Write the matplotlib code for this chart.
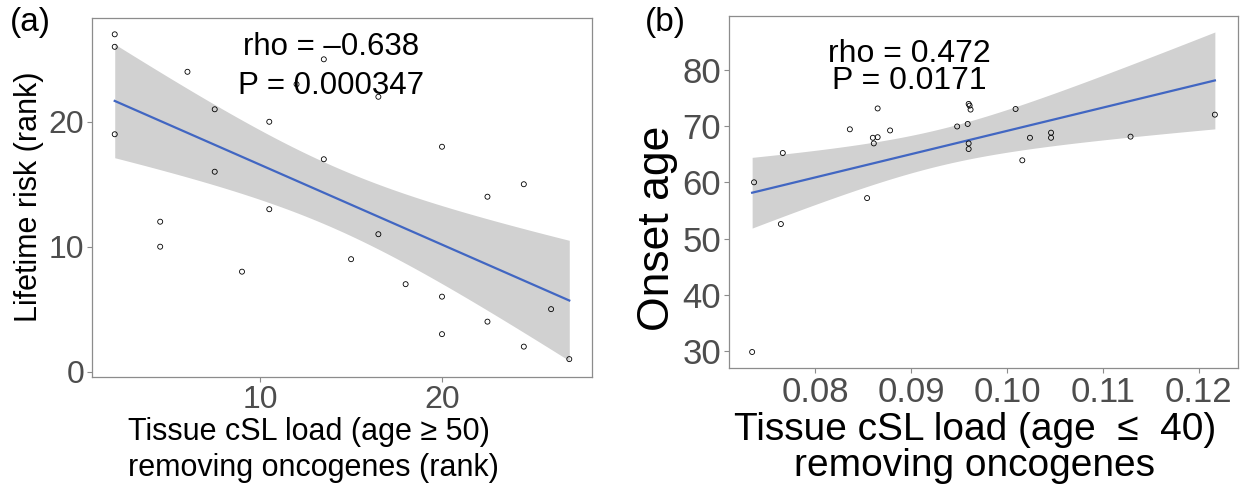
import numpy as np
import matplotlib
matplotlib.use("Agg")
import matplotlib.pyplot as plt

plt.rcParams['font.family'] = ['Liberation Sans', 'DejaVu Sans']

# panel (a): ranks
load_rank = [2, 2, 2, 4.5, 4.5, 6, 7.5, 7.5, 9, 10.5, 10.5, 12, 13.5, 13.5,
             15, 16.5, 16.5, 18, 20, 20, 20, 22.5, 22.5, 24.5, 24.5, 26, 27]
risk_rank = [27, 26, 19, 12, 10, 24, 21, 16, 8, 20, 13, 23, 25, 17,
             9, 22, 11, 7, 18, 6, 3, 14, 4, 15, 2, 5, 1]

# panel (b): cSL load vs onset age
csl_load = [0.0734, 0.0736, 0.0764, 0.0766, 0.0836, 0.0854, 0.0860, 0.0861,
            0.0865, 0.0865, 0.0878, 0.0948, 0.0959, 0.0960, 0.0961, 0.0962,
            0.0960, 0.0960, 0.1009, 0.1016, 0.1024, 0.1046, 0.1046, 0.1129,
            0.1217]
onset_age = [29.9, 60.0, 52.6, 65.2, 69.4, 57.2, 67.9, 66.9, 73.1, 68.0,
             69.2, 69.9, 70.35, 73.9, 73.6, 72.9, 66.9, 65.9, 73.0, 63.9,
             67.9, 68.8, 67.9, 68.1, 72.0]

stats_a = ["rho = \u20130.638", "P = 0.000347"]
stats_b = ["rho = 0.472", "P = 0.0171"]

W, H = 1245, 486
fig = plt.figure(figsize=(W / 100, H / 100), dpi=100)
ax1 = fig.add_axes([92 / W, 1 - 377 / H, 500 / W, 359 / H])
ax2 = fig.add_axes([729 / W, 1 - 368 / H, 509 / W, 352 / H])


def lm_band(x, y, tcrit):
    x = np.asarray(x, float)
    y = np.asarray(y, float)
    n = len(x)
    b, a = np.polyfit(x, y, 1)
    resid = y - (a + b * x)
    s = np.sqrt(np.sum(resid ** 2) / (n - 2))
    xs = np.linspace(x.min(), x.max(), 80)
    fit = a + b * xs
    se = s * np.sqrt(1 / n + (xs - x.mean()) ** 2 / np.sum((x - x.mean()) ** 2))
    return xs, fit, fit - tcrit * se, fit + tcrit * se


def expand(lo, hi):
    d = (hi - lo) * 0.05
    return lo - d, hi + d


def draw(ax, x, y, tcrit, fs):
    xs, fit, lo, hi = lm_band(x, y, tcrit)
    ax.fill_between(xs, lo, hi, color='#999999', alpha=0.45, linewidth=0, zorder=1)
    ax.scatter(x, y, s=13, facecolors='none', edgecolors='black', linewidths=0.6, zorder=3)
    ax.plot(xs, fit, color='#4166C2', lw=1.6, zorder=2)
    ax.set_xlim(*expand(min(x), max(x)))
    ax.set_ylim(*expand(min(min(y), lo.min()), max(max(y), hi.max())))
    for sp in ax.spines.values():
        sp.set_color('#8c8c8c')
        sp.set_linewidth(0.9)
    ax.tick_params(direction='out', length=3.5, width=0.8, color='#8c8c8c',
                   labelcolor='#4d4d4d', labelsize=fs, pad=2)


draw(ax1, load_rank, risk_rank, 2.0595, 23)
ax1.set_xticks([10, 20])
ax1.set_yticks([0, 10, 20])
ax1.text(13.9, 26.0, stats_a[0], ha='center', va='center', fontsize=22.5)
ax1.text(13.9, 22.9, stats_a[1], ha='center', va='center', fontsize=22.5)

draw(ax2, csl_load, onset_age, 2.0687, 25)
ax2.set_xticks([0.08, 0.09, 0.10, 0.11, 0.12])
ax2.set_xticklabels(['0.08', '0.09', '0.10', '0.11', '0.12'])
ax2.set_yticks([30, 40, 50, 60, 70, 80])
ax2.text(0.0898, 82.8, stats_b[0], ha='center', va='center', fontsize=23)
ax2.text(0.0898, 77.9, stats_b[1], ha='center', va='center', fontsize=23)

# axis titles
fig.text(128 / W, 1 - 432 / H, "Tissue cSL load (age \u2265 50)", ha='left', va='center', fontsize=22)
fig.text(128 / W, 1 - 468 / H, "removing oncogenes (rank)", ha='left', va='center', fontsize=22)
fig.text(29 / W, 1 - 197 / H, "Lifetime risk (rank)", rotation=90, ha='center', va='center', fontsize=22)

fig.text(975 / W, 1 - 430 / H, "Tissue cSL load (age  \u2264  40)", ha='center', va='center', fontsize=28)
fig.text(975 / W, 1 - 466 / H, "removing oncogenes", ha='center', va='center', fontsize=28)
fig.text(657 / W, 1 - 228 / H, "Onset age", rotation=90, ha='center', va='center', fontsize=32)

fig.text(10 / W, 1 - 22 / H, "(a)", ha='left', va='center', fontsize=24)
fig.text(645 / W, 1 - 22 / H, "(b)", ha='left', va='center', fontsize=24)

fig.savefig('out.png', dpi=100)
